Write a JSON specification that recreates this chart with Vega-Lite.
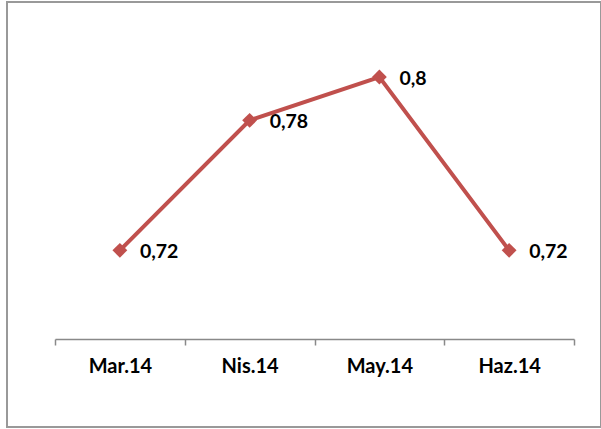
{
  "$schema": "https://vega.github.io/schema/vega-lite/v6.json",
  "autosize": "none",
  "padding": {"left": 7, "top": 2, "right": 0, "bottom": 2},
  "width": 594,
  "height": 425,
  "background": "white",
  "config": {"view": {"stroke": "#999999", "strokeWidth": 2}},
  "data": {"values": [
    {"month": "Mar.14", "value": 0.72, "label": "0,72"},
    {"month": "Nis.14", "value": 0.78, "label": "0,78"},
    {"month": "May.14", "value": 0.80, "label": "0,8"},
    {"month": "Haz.14", "value": 0.72, "label": "0,72"}
  ]},
  "encoding": {
    "x": {"field": "month", "type": "nominal", "sort": null,
      "scale": {"type": "band", "range": [48, 567], "paddingInner": 0, "paddingOuter": 0},
      "axis": {"title": null, "offset": -88, "tickBand": "extent", "domainColor": "#898989", "tickColor": "#898989", "domainWidth": 1.5, "tickWidth": 1.5, "tickSize": 6, "labelPadding": 11, "labelAngle": 0, "labelFont": "Lato", "labelFontWeight": "bold", "labelFontSize": 20, "labelColor": "#000000"}},
    "y": {"field": "value", "type": "quantitative",
      "scale": {"domain": [0.68, 0.82], "range": [335, 31.7], "zero": false},
      "axis": null}
  },
  "layer": [
    {"mark": {"type": "line", "color": "#C0504D", "strokeWidth": 4}},
    {"mark": {"type": "point", "shape": "diamond", "filled": true, "color": "#C0504D", "size": 220, "opacity": 1}},
    {"mark": {"type": "text", "align": "left", "baseline": "middle", "dx": 20, "dy": 2, "font": "Lato", "fontWeight": "bold", "fontSize": 19.5, "color": "#000000"},
      "encoding": {"text": {"field": "label"}}}
  ]
}
